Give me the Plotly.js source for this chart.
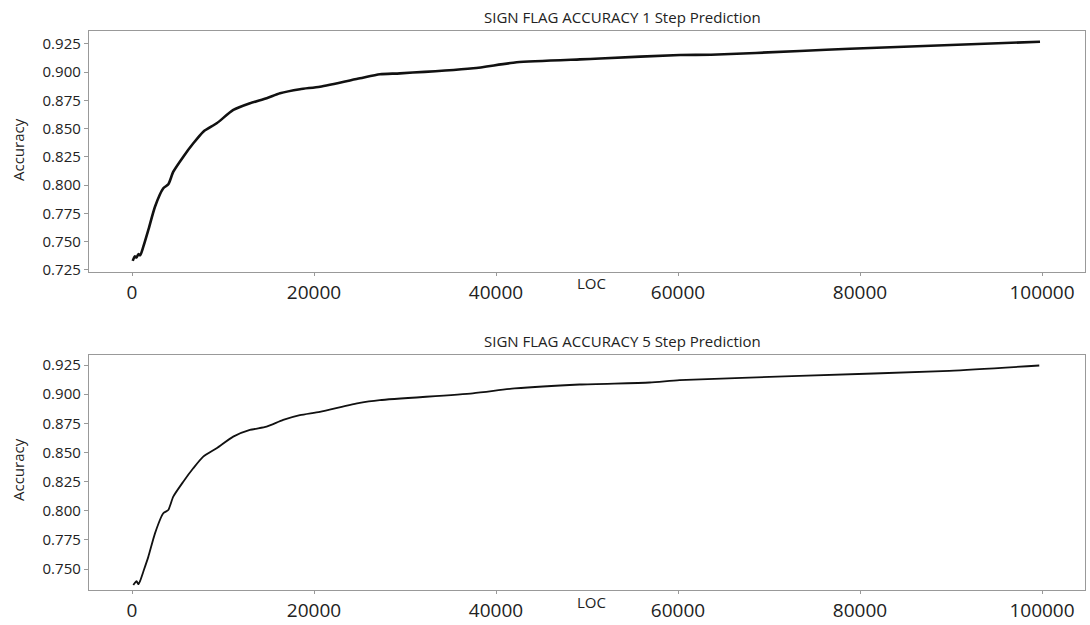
<!DOCTYPE html>
<html>
<head>
<meta charset="utf-8">
<script src="https://cdn.plot.ly/plotly-3.0.1.min.js"></script>
<style>html,body{margin:0;padding:0;background:#fff;}#chart{width:1090px;height:625px;}</style>
</head>
<body>
<div id="chart"></div>
<script>
// Top panel: 1 step prediction
const loc1 = [77, 300, 500, 700, 900, 1245, 1795, 2527, 3443, 3993, 4542, 5640, 6740, 7839, 9304, 11136, 12967, 14800, 16264, 18460, 20660, 25055, 27250, 29450, 37500, 42270, 49230, 51430, 60220, 63630, 73400, 78900, 99780];
const acc1 = [0.733, 0.737, 0.736, 0.739, 0.738, 0.7456, 0.7604, 0.781, 0.7973, 0.8008, 0.812, 0.8253, 0.8371, 0.8474, 0.8548, 0.8666, 0.8725, 0.877, 0.8814, 0.885, 0.8872, 0.8946, 0.8982, 0.899, 0.9035, 0.9088, 0.9114, 0.9121, 0.9153, 0.9155, 0.9188, 0.9208, 0.927];
// Bottom panel: 5 step prediction
const loc5 = [143, 300, 500, 700, 900, 1242, 1791, 2527, 3437, 3986, 4535, 5633, 6731, 7829, 9300, 11123, 12957, 14790, 16614, 18447, 20643, 25035, 27232, 37444, 42055, 49193, 56880, 60174, 73350, 89820, 99700];
const acc5 = [0.7363, 0.738, 0.7395, 0.737, 0.740, 0.7477, 0.7604, 0.7806, 0.7978, 0.8006, 0.8121, 0.8249, 0.8364, 0.8464, 0.8536, 0.8636, 0.8693, 0.8721, 0.8779, 0.882, 0.8849, 0.8926, 0.8949, 0.9007, 0.9049, 0.9083, 0.91, 0.912, 0.9157, 0.92, 0.9246];

const xTicks = [0, 20000, 40000, 60000, 80000, 100000];
const yTicks1 = [0.725, 0.75, 0.775, 0.8, 0.825, 0.85, 0.875, 0.9, 0.925];
const yTicks5 = [0.75, 0.775, 0.8, 0.825, 0.85, 0.875, 0.9, 0.925];
const titles = ["SIGN FLAG ACCURACY 1 Step Prediction", "SIGN FLAG ACCURACY 5 Step Prediction"];
const xLabel = "LOC";
const yLabel = "Accuracy";

const FONT = "Open Sans, Noto Sans, sans-serif";
const traces = [
  {x: loc1, y: acc1, type: "scatter", mode: "lines", line: {color: "#111", width: 2.6, shape: "spline", smoothing: 0.6}, xaxis: "x", yaxis: "y", hoverinfo: "skip"},
  {x: loc5, y: acc5, type: "scatter", mode: "lines", line: {color: "#111", width: 1.8, shape: "spline", smoothing: 0.6}, xaxis: "x2", yaxis: "y2", hoverinfo: "skip"}
];

function xAxis(anchor) {
  return {
    domain: [0, 1], anchor: anchor, range: [-4725, 104725],
    tickmode: "array", tickvals: xTicks, ticktext: xTicks.map(String),
    ticks: "outside", ticklen: 3, tickcolor: "#999", tickwidth: 1,
    tickfont: {family: FONT, size: 19, color: "#222"},
    showline: true, linecolor: "#999", linewidth: 1.2, mirror: true,
    showgrid: false, zeroline: false, automargin: false
  };
}
function yAxis(anchor, dom, range, ticks) {
  return {
    domain: dom, anchor: anchor, range: range,
    tickmode: "array", tickvals: ticks, ticktext: ticks.map(v => v.toFixed(3)),
    ticks: "outside", ticklen: 4, tickcolor: "#999", tickwidth: 1,
    tickfont: {family: FONT, size: 15, color: "#222"},
    showline: true, linecolor: "#999", linewidth: 1.2, mirror: true,
    showgrid: false, zeroline: false, automargin: false
  };
}

const W = 1090, H = 625, L = 89, R = 5;
const px = x => (x - L) / (W - L - R);
const py = y => 1 - y / H;

const layout = {
  width: W, height: H,
  margin: {l: L, r: R, t: 0, b: 0},
  paper_bgcolor: "#fff", plot_bgcolor: "#fff",
  showlegend: false,
  font: {family: FONT, color: "#222"},
  xaxis: xAxis("y"),
  yaxis: yAxis("x", [py(272), py(31)], [0.7232, 0.9365], yTicks1),
  xaxis2: xAxis("y2"),
  yaxis2: yAxis("x2", [py(590), py(355)], [0.7320, 0.9336], yTicks5),
  annotations: [
    {text: titles[0], xref: "paper", yref: "paper", x: px(622), y: py(17), xanchor: "center", yanchor: "middle", showarrow: false, font: {family: FONT, size: 15, color: "#222"}},
    {text: titles[1], xref: "paper", yref: "paper", x: px(622), y: py(341), xanchor: "center", yanchor: "middle", showarrow: false, font: {family: FONT, size: 15, color: "#222"}},
    {text: xLabel, xref: "paper", yref: "paper", x: px(591), y: py(283), xanchor: "center", yanchor: "middle", showarrow: false, font: {family: FONT, size: 15, color: "#222"}},
    {text: xLabel, xref: "paper", yref: "paper", x: px(591), y: py(602), xanchor: "center", yanchor: "middle", showarrow: false, font: {family: FONT, size: 15, color: "#222"}},
    {text: yLabel, xref: "paper", yref: "paper", x: px(18), y: py(150), xanchor: "center", yanchor: "middle", textangle: -90, showarrow: false, font: {family: FONT, size: 15, color: "#222"}},
    {text: yLabel, xref: "paper", yref: "paper", x: px(18), y: py(470), xanchor: "center", yanchor: "middle", textangle: -90, showarrow: false, font: {family: FONT, size: 15, color: "#222"}}
  ]
};

Plotly.newPlot("chart", traces, layout, {staticPlot: true, displayModeBar: false});
</script>
</body>
</html>
